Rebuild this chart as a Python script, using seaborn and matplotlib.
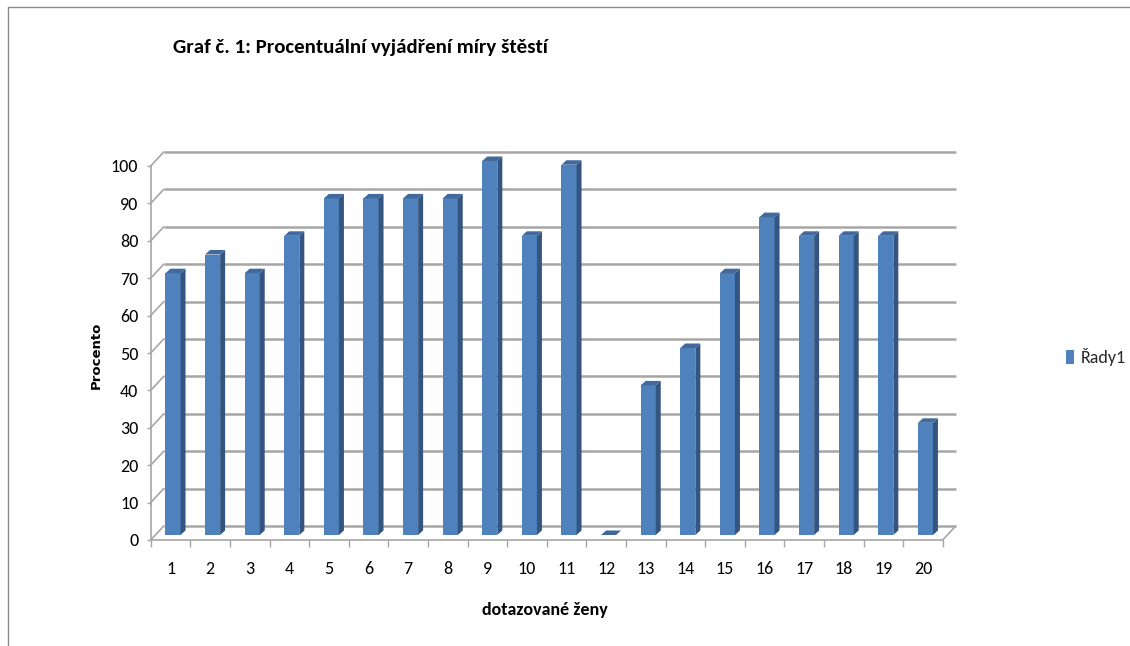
import matplotlib
matplotlib.use("Agg")
import matplotlib.pyplot as plt
import matplotlib.transforms as mtransforms
import matplotlib.font_manager as fm
from matplotlib.patches import Polygon, Patch
from matplotlib.lines import Line2D
import pandas as pd
import seaborn as sns

# --- data ---
title = "Graf č. 1: Procentuální vyjádření míry štěstí"
x_label = "dotazované ženy"
y_label = "Procento"
series_name = "Řady1"
respondents = [str(i) for i in range(1, 21)]
happiness = [70, 75, 70, 80, 90, 90, 90, 90, 100, 80, 99, 0, 40, 50, 70, 85, 80, 80, 80, 30]
y_ticks = list(range(0, 101, 10))

# --- look ---
W, H, DPI = 1130, 646, 100
FRONT = "#4F81BD"
SIDE = "#34557F"
TOP = "#41699C"
GRID = "#A6A6A6"
BORDER = "#8C8C8C"

names = {f.name for f in fm.fontManager.ttflist}
narrow = "DejaVu Sans"
for cand in ["Carlito", "Liberation Sans Narrow", "Roboto Condensed", "Open Sans Condensed"]:
    if cand in names:
        narrow = cand
        break

sns.set_theme(style="white")
plt.rcParams["font.family"] = [narrow, "DejaVu Sans"]
if narrow == "DejaVu Sans":
    plt.rcParams["font.stretch"] = "condensed"

df = pd.DataFrame({"respondent": respondents, "value": happiness})

fig = plt.figure(figsize=(W / DPI, H / DPI), dpi=DPI, facecolor="white")

# front plane of the 3D box, in pixels
left, right, bottom, top = 150.7, 942.7, 540, 166
ax = fig.add_axes([left / W, 1 - bottom / H, (right - left) / W, (bottom - top) / H])
ax.patch.set_alpha(0)

sns.barplot(data=df, x="respondent", y="value", color=FRONT, saturation=1,
            width=0.38, errorbar=None, ax=ax, zorder=3)
ax.set_xlim(-0.5, len(respondents) - 0.5)
ax.set_ylim(0, 100)

px_x = (right - left) / len(respondents)   # pixels per category
px_y = (bottom - top) / 100                # pixels per percent

# depth of the box (front -> back wall)
depth_x, depth_y = 13, 14
ddx, ddy = depth_x / px_x, depth_y / px_y

# back wall gridlines + diagonal connectors on the left wall
x_lo, x_hi = -0.5, len(respondents) - 0.5
for yv in y_ticks:
    ax.plot([x_lo + ddx, x_hi + ddx], [yv + ddy, yv + ddy], color=GRID, lw=1.8,
            solid_capstyle="butt", clip_on=False, zorder=1)
    ax.plot([x_lo, x_lo + ddx], [yv, yv + ddy], color=GRID, lw=1.2,
            clip_on=False, zorder=1)
# right edge of the floor
ax.plot([x_hi, x_hi + ddx], [0, ddy], color=GRID, lw=1.2, clip_on=False, zorder=1)

# pseudo-3D bars: shift the front faces into the middle of the box, add side + top
bar_tr = mtransforms.offset_copy(ax.transData, fig=fig, x=2.5, y=5, units="dots")
sx, sy = 5 / px_x, 4.5 / px_y
for bar in ax.patches:
    x0 = bar.get_x()
    x1 = x0 + bar.get_width()
    h = bar.get_height()
    bar.set_transform(bar_tr)
    bar.set_clip_on(False)
    bar.set_edgecolor("none")
    side = Polygon([(x1, 0), (x1 + sx, sy), (x1 + sx, h + sy), (x1, h)],
                   closed=True, facecolor=SIDE, edgecolor="none",
                   transform=bar_tr, clip_on=False, zorder=3)
    cap = Polygon([(x0, h), (x1, h), (x1 + sx, h + sy), (x0 + sx, h + sy)],
                  closed=True, facecolor=TOP, edgecolor="none",
                  transform=bar_tr, clip_on=False, zorder=3)
    ax.add_patch(side)
    ax.add_patch(cap)

# axes styling
for s in ["top", "right"]:
    ax.spines[s].set_visible(False)
for s in ["left", "bottom"]:
    ax.spines[s].set_color(GRID)
    ax.spines[s].set_linewidth(1.2)
    ax.spines[s].set_zorder(1)

ax.set_yticks(y_ticks)
ax.set_yticklabels([str(v) for v in y_ticks])
ax.set_xticks(range(len(respondents)))
ax.set_xticklabels(respondents)
ax.set_xticks([i - 0.5 for i in range(len(respondents) + 1)], minor=True)
ax.tick_params(axis="y", left=True, length=3, width=1, color=GRID, pad=6,
               labelsize=13, labelcolor="black")
ax.tick_params(axis="x", which="major", bottom=True, length=0, pad=15,
               labelsize=13, labelcolor="black")
ax.tick_params(axis="x", which="minor", bottom=True, length=5, width=1,
               color=GRID, direction="out")
ax.grid(False)

ax.set_xlabel(x_label, fontsize=13, fontweight="bold", color="black")
ax.xaxis.set_label_coords((545 - left) / (right - left), (bottom - 602) / (bottom - top))
ax.set_ylabel(y_label, fontsize=9.5, fontweight="bold", color="black",
              family="DejaVu Sans", fontstretch="normal")
ax.yaxis.set_label_coords((103 - left) / (right - left), (bottom - 355) / (bottom - top))

fig.text(173 / W, 1 - 47 / H, title, ha="left", va="center", fontsize=15,
         fontweight="bold", color="black")

ax.legend(handles=[Patch(facecolor=FRONT, edgecolor="none", label=series_name)],
          loc="center left", bbox_to_anchor=(1066 / W, 1 - 357 / H),
          bbox_transform=fig.transFigure, frameon=False, fontsize=13,
          handlelength=0.42, handleheight=0.8, handletextpad=0.4,
          borderpad=0, borderaxespad=0)

# outer chart frame (only top and left edges are visible in the crop)
fig.add_artist(Line2D([8 / W, 1], [1 - 7 / H, 1 - 7 / H], transform=fig.transFigure,
                      color=BORDER, lw=1))
fig.add_artist(Line2D([8 / W, 8 / W], [0, 1 - 7 / H], transform=fig.transFigure,
                      color=BORDER, lw=1))

fig.savefig("out.png", dpi=DPI)
